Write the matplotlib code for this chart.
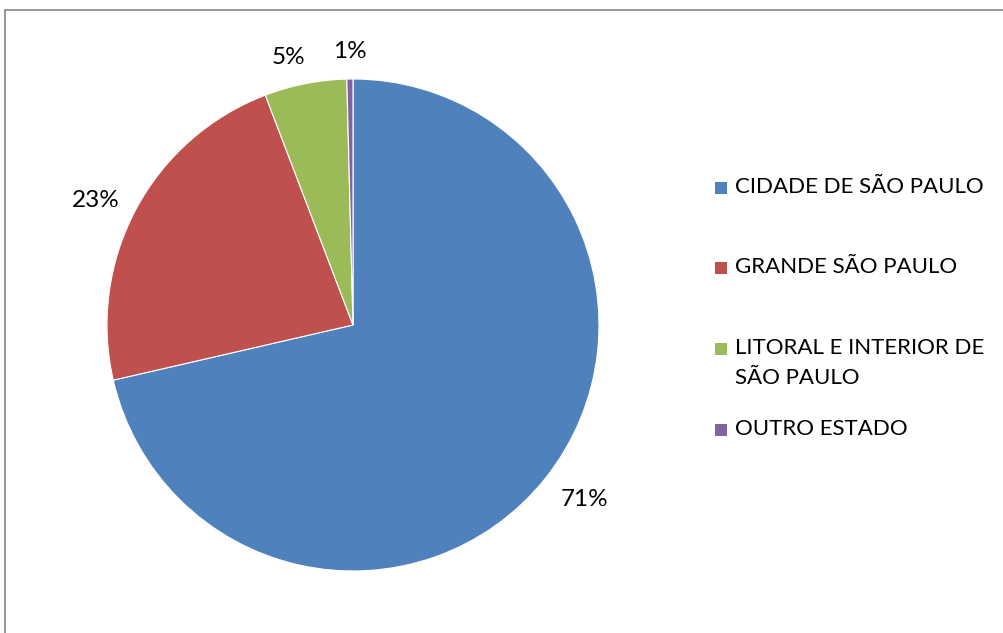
import matplotlib
matplotlib.use('Agg')
import matplotlib.pyplot as plt
from matplotlib.patches import Rectangle

plt.rcParams['font.family'] = ['Lato', 'DejaVu Sans']

# dados do gráfico
categorias = ['CIDADE DE SÃO PAULO', 'GRANDE SÃO PAULO',
              'LITORAL E INTERIOR DE\nSÃO PAULO', 'OUTRO ESTADO']
valores = [71.4, 22.8, 5.4, 0.4]
rotulos = ['71%', '23%', '5%', '1%']
cores = ['#4F81BD', '#C0504D', '#9BBB59', '#8064A2']

fig = plt.figure(figsize=(10.04, 6.33), dpi=100)
ax = fig.add_axes([107 / 1004, (633 - 571) / 633, 492 / 1004, 492 / 633])

wedges, textos = ax.pie(valores, labels=rotulos, colors=cores, startangle=90,
                        counterclock=False, labeldistance=1.14,
                        wedgeprops={'edgecolor': 'white', 'linewidth': 0.8})
# pequenos ajustes nos rótulos (como no Excel)
ajustes = [(0.05, 0.0), (-0.04, -0.03), (-0.04, -0.03), (0.0, -0.03)]
for t, (dx, dy) in zip(textos, ajustes):
    x, y = t.get_position()
    t.set_position((x + dx, y + dy))
    t.set_fontsize(17.5)
    t.set_ha('center')
    t.set_va('center')
ax.set_aspect('equal')
ax.set_xlim(-1, 1)
ax.set_ylim(-1, 1)

# legenda manual
ys = [188, 268, 349, 430]
for cat, cor, y in zip(categorias, cores, ys):
    fig.patches.append(Rectangle((715 / 1004, 1 - (y + 6) / 633), 12 / 1004, 12 / 633,
                                 transform=fig.transFigure, facecolor=cor, edgecolor='none'))
    fig.text(735 / 1004, 1 - (y - 11) / 633, cat, fontsize=16, va='top', ha='left',
             linespacing=1.65)

# borda do gráfico
fig.patches.append(Rectangle((5 / 1004, -0.05), 1.05, 1 - 10 / 633 + 0.05,
                             transform=fig.transFigure, facecolor='none',
                             edgecolor='#868686', linewidth=1.2))

fig.savefig('out.png', dpi=100)
